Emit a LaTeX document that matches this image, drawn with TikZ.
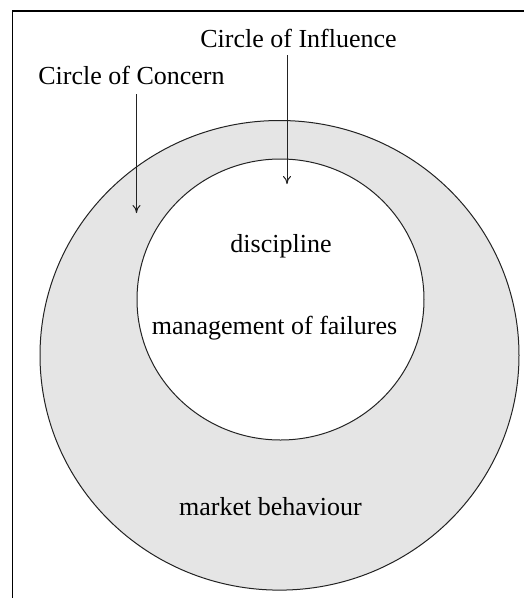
\documentclass[tikz,border=0pt]{standalone}
\usepackage{fontspec}
\setmainfont{Liberation Serif}
\usetikzlibrary{arrows.meta,positioning}
\definecolor{ringfill}{RGB}{229,229,229}
\definecolor{edgegray}{RGB}{35,35,35}

\begin{document}
\begin{tikzpicture}[x=1pt, y=-1pt,
  lbl/.style={font=\fontsize{26}{30}\selectfont, inner sep=0pt, anchor=base},
  ptr/.style={-{To[length=8pt,width=8pt]}, line width=1pt, edgegray}]
\useasboundingbox (0,0) rectangle (524,598);

% frame (top and left only)
\draw[line width=1.5pt] (12.7,598) -- (12.7,11) -- (524,11);

% Circle of Concern (outer ring)
\filldraw[fill=ringfill, draw=edgegray, line width=1pt]
  (279.5,355.3) ellipse [x radius=239.5pt, y radius=234.8pt];
% Circle of Influence (inner)
\filldraw[fill=white, draw=edgegray, line width=1pt]
  (280.5,299.5) ellipse [x radius=143.5pt, y radius=140.5pt];

% labels
\node[lbl] (influence) at (298.5,47) {Circle of Influence};
\node[lbl] (concern) at (131.5,84) {Circle of Concern};
\node[lbl] (discipline) at (281,252) {discipline};
\node[lbl] (failures) at (274.5,334) {management of failures};
\node[lbl] (market) at (270.5,515) {market behaviour};

% arrows
\coordinate (tipInfl) at (287,184);
\coordinate (tipConc) at (136.5,213);
\draw[ptr] (influence.south -| tipInfl) ++(0,8) -- (tipInfl);
\draw[ptr] (concern.south -| tipConc) ++(0,10) -- (tipConc);
\end{tikzpicture}
\end{document}
